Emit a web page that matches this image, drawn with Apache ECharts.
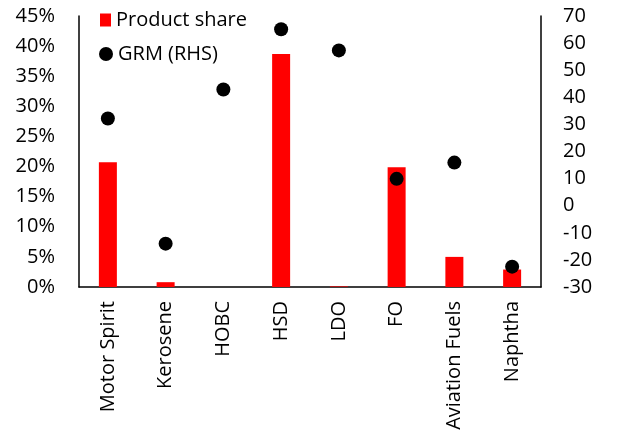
<!DOCTYPE html>
<html>
<head>
<meta charset="utf-8">
<script src="https://cdn.jsdelivr.net/npm/echarts@6/dist/echarts.min.js"></script>
<style>
  body { margin: 0; background: #fff; }
  #chart { width: 617px; height: 440px; }
</style>
</head>
<body>
<div id="chart"></div>
<script>
const categories = ['Motor Spirit', 'Kerosene', 'HOBC', 'HSD', 'LDO', 'FO', 'Aviation Fuels', 'Naphtha'];
const productShare = [20.7, 0.8, 0, 38.7, 0.1, 19.9, 5.0, 2.9];
const grm = [32.2, -14.0, 42.9, 65.1, 57.3, 9.9, 15.9, -22.5];

const font = 'Open Sans';
const fs = 20;
const chart = echarts.init(document.getElementById('chart'));

chart.setOption({
  animation: false,
  textStyle: { fontFamily: font },
  grid: { left: 79, right: 76, top: 16, bottom: 153 },
  legend: [
    {
      data: ['Product share'],
      left: 95, top: 5,
      icon: 'rect', itemWidth: 11, itemHeight: 13, itemGap: 8,
      textStyle: { fontFamily: font, fontSize: fs, color: '#000' }
    },
    {
      data: ['GRM (RHS)'],
      left: 94, top: 39,
      icon: 'circle', itemWidth: 14, itemHeight: 14, itemGap: 8,
      textStyle: { fontFamily: font, fontSize: fs, color: '#000' }
    }
  ],
  xAxis: {
    type: 'category',
    data: categories,
    axisLine: { lineStyle: { color: '#000', width: 1.5 } },
    axisTick: { show: false },
    axisLabel: { rotate: 90, margin: 14, fontSize: fs, color: '#000', fontFamily: font }
  },
  yAxis: [
    {
      type: 'value', min: 0, max: 45, interval: 5,
      splitLine: { show: false },
      axisLine: { show: true, lineStyle: { color: '#000', width: 1.5 } },
      axisTick: { show: false },
      axisLabel: { formatter: '{value}%', margin: 24, fontSize: fs, color: '#000', fontFamily: font }
    },
    {
      type: 'value', min: -30, max: 70, interval: 10,
      splitLine: { show: false },
      axisLine: { show: true, lineStyle: { color: '#000', width: 1.5 } },
      axisTick: { show: false },
      axisLabel: { margin: 22, fontSize: fs, color: '#000', fontFamily: font }
    }
  ],
  series: [
    {
      name: 'Product share',
      type: 'bar',
      data: productShare,
      barWidth: 18,
      itemStyle: { color: '#ff0000' }
    },
    {
      name: 'GRM (RHS)',
      type: 'scatter',
      yAxisIndex: 1,
      data: grm,
      symbolSize: 14,
      itemStyle: { color: '#000', opacity: 1 },
      z: 3
    }
  ]
});
</script>
</body>
</html>
